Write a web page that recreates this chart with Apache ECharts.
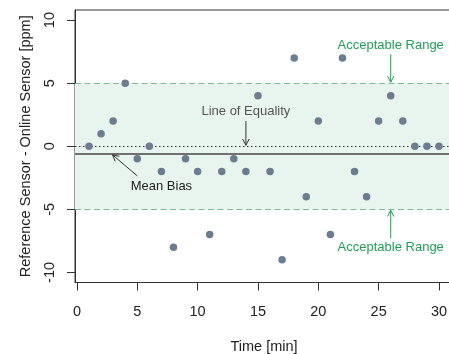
<!DOCTYPE html>
<html>
<head>
<meta charset="utf-8">
<script src="https://cdn.jsdelivr.net/npm/echarts@6/dist/echarts.min.js"></script>
<style>
  html, body { margin: 0; padding: 0; background: #fff; }
  #chart { width: 449px; height: 354px; }
</style>
</head>
<body>
<div id="chart"></div>
<script>
// ----- data -----
const minutes = [1, 2, 3, 4, 5, 6, 7, 8, 9, 10, 11, 12, 13, 14, 15,
                 16, 17, 18, 19, 20, 21, 22, 23, 24, 25, 26, 27, 28, 29, 30];
const diffs   = [0, 1, 2, 5, -1, 0, -2, -8, -1, -2, -7, -2, -1, -2, 4,
                 -2, -9, 7, -4, 2, -7, 7, -2, -4, 2, 4, 2, 0, 0, 0];
const xTicks = [0, 5, 10, 15, 20, 25, 30];
const yTicks = [-10, -5, 0, 5, 10];
const limits = [-5, 5];
const meanBias = -0.6;

// annotation: [text, textX, textY, arrowFromX, arrowFromY, arrowToX, arrowToY, kind]
const notes = [
  ['Acceptable Range', 26, 8.0, 26, 7.3, 26, 5.08, 'range'],
  ['Acceptable Range', 26, -8.0, 26, -7.3, 26, -5.08, 'range'],
  ['Line of Equality', 14, 2.75, 14, 2.0, 14, 0.08, 'eq'],
  ['Mean Bias', 7, -3.15, 5.0, -2.35, 2.95, -0.68, 'bias']
];

const noteColors = { range: '#1f9e55', eq: '#555555', bias: '#222222' };

const chart = echarts.init(document.getElementById('chart'), null, { renderer: 'canvas' });

// arrow with open head + its text
function noteItem(params, api) {
  const n = notes[params.dataIndex];
  const t = api.coord([api.value(0), api.value(1)]);
  const p0 = api.coord([api.value(2), api.value(3)]);
  const p1 = api.coord([api.value(4), api.value(5)]);
  const col = n[7] === 'range' ? '#1f9e55' : '#333333';
  const ang = Math.atan2(p1[1] - p0[1], p1[0] - p0[0]);
  const len = 7, spread = Math.PI / 6.5;
  const h1 = [p1[0] - len * Math.cos(ang - spread), p1[1] - len * Math.sin(ang - spread)];
  const h2 = [p1[0] - len * Math.cos(ang + spread), p1[1] - len * Math.sin(ang + spread)];
  return {
    type: 'group',
    children: [
      { type: 'line', shape: { x1: p0[0], y1: p0[1], x2: p1[0], y2: p1[1] },
        style: { stroke: col, lineWidth: 1 } },
      { type: 'polyline', shape: { points: [h1, p1, h2] },
        style: { stroke: col, lineWidth: 1, fill: null } },
      { type: 'text', x: t[0], y: t[1],
        style: { text: n[0], fill: noteColors[n[7]], fontSize: 13,
                 fontFamily: 'Liberation Sans, Arial, sans-serif',
                 align: 'center', verticalAlign: 'middle' } }
    ]
  };
}

chart.setOption({
  backgroundColor: '#ffffff',
  animation: false,
  textStyle: { fontFamily: 'Liberation Sans, Arial, sans-serif' },
  grid: {
    left: 75, top: 10, right: -4, bottom: 71.5,
    containLabel: false, outerBoundsMode: 'none',
    show: true, borderColor: '#333', borderWidth: 1, backgroundColor: 'transparent'
  },
  xAxis: {
    type: 'value', min: -0.16, max: 31.16,
    name: 'Time [min]', nameLocation: 'middle', nameGap: 57,
    nameTextStyle: { color: '#222', fontSize: 14.5 },
    axisLine: { show: true, onZero: false, lineStyle: { color: '#333' } },
    splitLine: { show: false },
    axisTick: { show: true, length: 8, inside: false, customValues: xTicks,
                lineStyle: { color: '#333' } },
    axisLabel: { customValues: xTicks, margin: 22, color: '#222', fontSize: 14.5 }
  },
  yAxis: {
    type: 'value', min: -10.8, max: 10.8,
    name: 'Reference Sensor - Online Sensor [ppm]', nameLocation: 'middle', nameGap: 42,
    nameTextStyle: { color: '#222', fontSize: 14.5 },
    axisLine: { show: true, onZero: false, lineStyle: { color: '#333' } },
    splitLine: { show: false },
    axisTick: { show: true, length: 8, customValues: yTicks, lineStyle: { color: '#333' } },
    axisLabel: { customValues: yTicks, rotate: 90, margin: 18, color: '#222', fontSize: 14.5 }
  },
  series: [
    {
      name: 'bands',
      type: 'line',
      data: [],
      silent: true,
      markArea: {
        silent: true,
        itemStyle: { color: '#e8f5ee' },
        data: [[{ yAxis: limits[0] }, { yAxis: limits[1] }]]
      },
      markLine: {
        silent: true,
        symbol: 'none',
        label: { show: false },
        data: [
          { yAxis: limits[0], lineStyle: { color: '#7dbb96', type: [6, 3.5], width: 1.2 } },
          { yAxis: limits[1], lineStyle: { color: '#7dbb96', type: [6, 3.5], width: 1.2 } },
          { yAxis: 0, lineStyle: { color: '#333', type: [1.5, 2.5], width: 1 } },
          { yAxis: meanBias, lineStyle: { color: '#707070', type: 'solid', width: 2 } }
        ]
      }
    },
    {
      name: 'diff',
      type: 'scatter',
      data: minutes.map((m, i) => [m, diffs[i]]),
      symbolSize: 7.5,
      itemStyle: { color: '#6b7d8f', opacity: 1 },
      z: 5
    },
    {
      name: 'notes',
      type: 'custom',
      renderItem: noteItem,
      data: notes.map(n => [n[1], n[2], n[3], n[4], n[5], n[6]]),
      z: 6
    }
  ]
});
</script>
</body>
</html>
